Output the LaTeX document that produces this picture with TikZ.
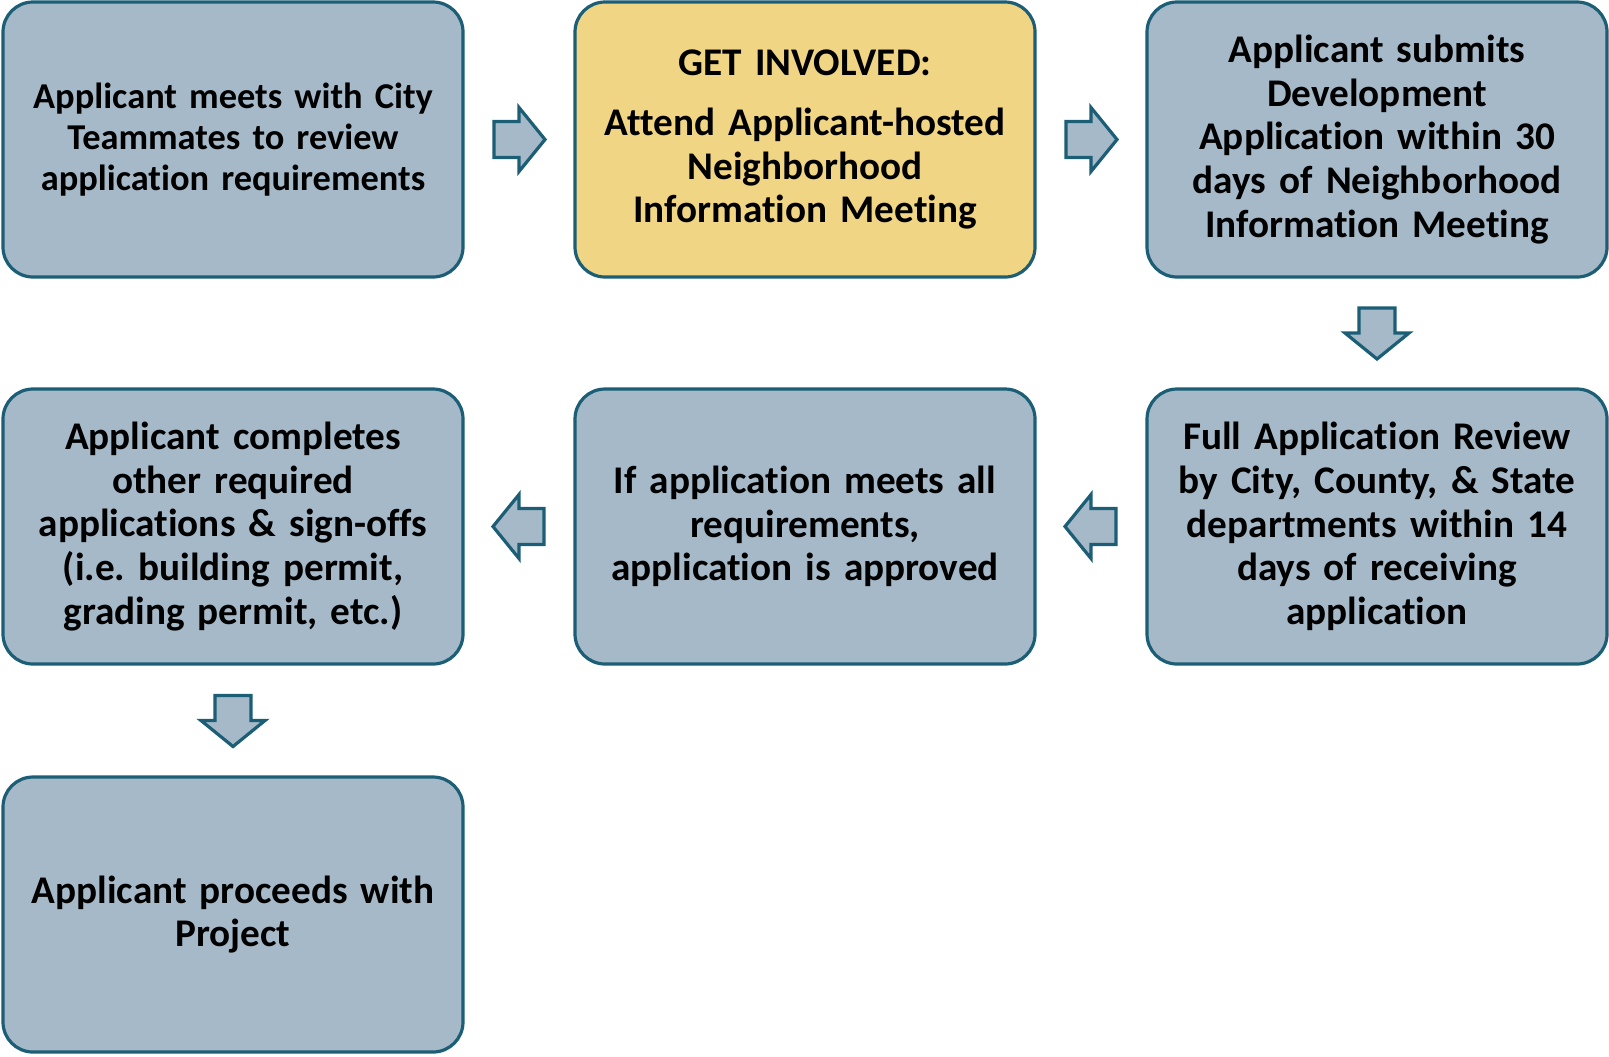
\documentclass[tikz,border=0pt]{standalone}
\usepackage{fontspec}
\setmainfont{Carlito}[Ligatures=CommonOff]
\usetikzlibrary{calc}
\definecolor{boxfill}{HTML}{A6B9C8}
\definecolor{boxline}{HTML}{1B5E75}
\definecolor{hilite}{HTML}{F0D584}
\tikzset{
  stepbox/.style={draw=boxline, line width=1.6pt, fill=boxfill, rounded corners=15pt,
    minimum width=230pt, minimum height=137.5pt, align=center, text width=226pt,
    inner sep=0pt, font=\fontsize{19.6}{21.8}\selectfont\bfseries\frenchspacing},
  smalltext/.style={font=\fontsize{18.2}{20.5}\selectfont\bfseries\frenchspacing},
  blockarrow/.style={draw=boxline, line width=1.6pt, fill=boxfill, line join=miter},
  pics/barrow/.style={code={\draw[blockarrow] (-25,-18) -- (0,-18) -- (0,-32) -- (26,0) -- (0,32) -- (0,18) -- (-25,18) -- cycle;}}
}
\begin{document}
\begin{tikzpicture}[x=0.5pt,y=-0.5pt]
\useasboundingbox (0,0) rectangle (1609,1056);
\node[stepbox, smalltext] (b1) at (233,139.5) {Applicant meets with City\\Teammates to review\\application requirements};
\node[stepbox, fill=hilite] (b2) at (805,139.5) {GET INVOLVED:\\[8.5pt]Attend Applicant-hosted\\Neighborhood\\Information Meeting};
\node[stepbox] (b3) at (1377,139.5) {Applicant submits\\Development\\Application within 30\\days of Neighborhood\\Information Meeting};
\node[stepbox] (b4) at (1377,526.5) {Full Application Review\\by City, County, \& State\\departments within 14\\days of receiving\\application};
\node[stepbox] (b5) at (805,526.5) {If application meets all\\requirements,\\application is approved};
\node[stepbox] (b6) at (233,526.5) {Applicant completes\\other required\\applications \& sign-offs\\(i.e. building permit,\\grading permit, etc.)};
\node[stepbox] (b7) at (233,914.5) {Applicant proceeds with\\Project};
\pic at ($(b1.east)!0.5!(b2.west)$) {barrow};
\pic at ($(b2.east)!0.5!(b3.west)$) {barrow};
\pic[rotate=-90] at ($(b3.south)!0.5!(b4.north)$) {barrow};
\pic[rotate=180] at ($(b4.west)!0.5!(b5.east)$) {barrow};
\pic[rotate=180] at ($(b5.west)!0.5!(b6.east)$) {barrow};
\pic[rotate=-90] at ($(b6.south)!0.5!(b7.north)$) {barrow};
\end{tikzpicture}
\end{document}
